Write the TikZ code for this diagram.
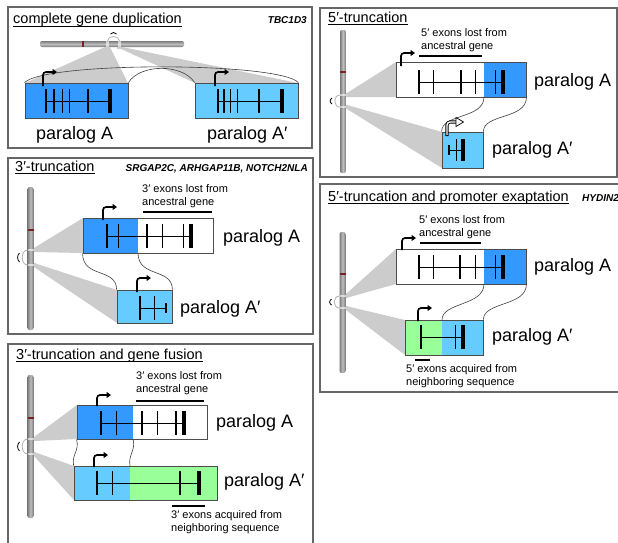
\documentclass[tikz,border=0pt]{standalone}
\usepackage{fontspec}
\setmainfont{Liberation Sans}
\usepackage{tikz}
\usetikzlibrary{arrows.meta, fit, calc}

\definecolor{parablue}{HTML}{3399FF}
\definecolor{paracyan}{HTML}{66CCFF}
\definecolor{paragreen}{HTML}{99FF99}
\definecolor{fangray}{HTML}{CCCCCC}
\definecolor{bandred}{HTML}{7A2222}
\definecolor{chromdark}{HTML}{7C7C7C}
\definecolor{chromlight}{HTML}{BDBDBD}
\definecolor{framegray}{HTML}{666666}

\tikzset{
    panel/.style={draw=framegray, line width=1.3pt},
    genebox/.style={draw=black!70, line width=0.8pt, inner sep=0pt},
    fan/.style={fill=fangray},
    link/.style={draw=black!75, line width=0.6pt},
    tss/.style={line width=1.7pt, rounded corners=3pt, -{Triangle[length=4.5pt,width=6pt]}},
    ptitle/.style={font=\fontsize{14.5}{16}\selectfont, inner sep=0pt, anchor=base west},
    gname/.style={font=\fontsize{10}{12}\selectfont\bfseries\itshape, inner sep=0pt},
    plabel/.style={font=\fontsize{18}{20}\selectfont, inner sep=0pt, anchor=west},
    note/.style={font=\fontsize{11}{13}\selectfont, inner sep=0pt, anchor=north west, align=left},
    bar/.style={line width=1.2pt},
}

% gene: y of the line, first and last x, exons as x/width/half height
\def\gene#1#2#3#4{%
    \draw[line width=0.9pt] (#2,#1) -- (#3,#1);
    \foreach \ex/\w/\h in {#4}
    {
        \draw[line width=\w pt] (\ex,#1-\h) -- (\ex,#1+\h);
    }
}

% upright chromosome: x, top, bottom, red band, the two duplicated spots
\def\vchrom#1#2#3#4#5#6{%
    \shade[left color=chromdark, right color=chromdark, middle color=chromlight, rounded corners=2pt]
        (#1-3,#2) rectangle (#1+3,#3);
    \fill[bandred] (#1-3,#4-1) rectangle (#1+3,#4+1);
    \foreach \n in {#5,#6}
    {
        \fill[white, opacity=0.6] (#1-3,\n-1.2) rectangle (#1+3,\n+1.2);
        \fill[fangray] (#1+3,\n-2) rectangle (#1+5,\n+2);
    }
    \draw[black!30, line width=0.8pt] (#1-3,#5) .. controls (#1-10,#5) and (#1-10,#6) .. (#1-3,#6);
    \draw[line width=0.8pt] (#1-11,#5+3) .. controls (#1-13.5,#5+5) and (#1-13.5,#6-5) .. (#1-11,#6-3);
}

\begin{document}
\begin{tikzpicture}[x=1pt, y=-1pt]
    \clip (0,0) rectangle (618,542);
    \fill[white] (0,0) rectangle (618,542);

    % ---------- complete gene duplication ----------
    \draw[panel] (8,7) rectangle (312,148);
    \node[ptitle] (t1) at (13,23.5) {complete gene duplication};
    \draw ([yshift=-2.5pt]t1.base west) -- ([yshift=-2.5pt]t1.base east);
    \node[gname, anchor=base east] (g1) at (307,23) {TBC1D3};

    % chromosome
    \shade[top color=chromdark, bottom color=chromdark, middle color=chromlight, rounded corners=2pt]
        (40,41) rectangle (184,47);
    \fill[bandred] (82,41) rectangle (84,47);
    \foreach \n in {107.5,119.5}
    {
        \fill[white, opacity=0.6] (\n-1.2,41) rectangle (\n+1.2,47);
        \fill[fangray] (\n-2.5,47) rectangle (\n+2.5,49);
    }
    \draw[black!30, line width=0.8pt] (107.5,41) .. controls (107.5,35) and (119.5,35) .. (119.5,41);
    \draw[line width=0.8pt] (110.5,34) .. controls (112,32) and (115,32) .. (116.5,34);

    \fill[fan] (105,47) -- (25,83) -- (128,83) -- (110,47) -- cycle;
    \fill[fan] (117,47) -- (195,83) -- (298,83) -- (122,47) -- cycle;

    \fill[parablue] (25,83) rectangle (128,118);
    \node[genebox, fit={(25,83) (128,118)}] (p1a) {};
    \fill[paracyan] (195,83) rectangle (298,118);
    \node[genebox, fit={(195,83) (298,118)}] (p1ap) {};

    \draw[link] (p1a.north west) .. controls +(20,-21) and +(-20,-21) .. (p1ap.north east);
    \draw[link] (p1a.north east) .. controls +(12,-19) and +(-12,-19) .. (p1ap.north west);

    \gene{101}{46}{110}{46/2/12, 54/1.5/12, 62/1/12, 69/1/12, 88/2/12, 110/3.5/12}
    \gene{101}{218}{282}{218/2/12, 224/1.5/12, 230/1/12, 237/1/12, 259/2/12, 282/3.5/12}
    \draw[tss] (43,86) |- (57,72);
    \draw[tss] (215,86) |- (229,72);

    \node[plabel] (l1a) at (36,134.5) {paralog A};
    \node[plabel] (l1b) at (207,134.5) {paralog A′};

    % ---------- 3'-truncation ----------
    \draw[panel] (8,158) rectangle (313,334);
    \node[ptitle] (t2) at (15,171) {3′-truncation};
    \draw ([yshift=-2.5pt]t2.base west) -- ([yshift=-2.5pt]t2.base east);
    \node[gname, anchor=base east] (g2) at (308,171) {SRGAP2C, ARHGAP11B, NOTCH2NLA};

    \vchrom{30.5}{187}{330}{230}{250}{265}
    \fill[fan] (34,248) -- (83,218) -- (83,253) -- (34,252) -- cycle;
    \fill[fan] (34,263) -- (117,290) -- (117,323) -- (34,267) -- cycle;

    \fill[parablue] (83,218) rectangle (138,253);
    \node[genebox, fit={(83,218) (213,253)}] (p2a) {};
    \coordinate (p2cut) at (138,253);
    \fill[paracyan] (117,290) rectangle (172,323);
    \node[genebox, fit={(117,290) (172,323)}] (p2ap) {};

    \draw[link] (p2a.south west) .. controls +(0,25) and +(0,-22) .. (p2ap.north west);
    \draw[link] (p2cut) .. controls +(0,25) and +(0,-22) .. (p2ap.north east);

    \gene{236}{107}{191}{107/2/12, 118/1/12, 147/2/12, 162/1/12, 183/1/12, 191/3.5/12}
    \gene{308}{140}{166}{140/2/12, 154/1/12, 166/1.5/5}
    \draw[tss] (103,220) |- (117,207);
    \draw[tss] (137,292) |- (151,278);

    \node[note] (n2) at (142,184) {3′ exons lost from\\ancestral gene};
    \draw[bar] (143,212) -- (212,212);
    \node[plabel] (l2a) at (223,238) {paralog A};
    \node[plabel] (l2b) at (180,309) {paralog A′};

    % ---------- 3'-truncation and gene fusion ----------
    \draw[panel] (8,344) rectangle (313,545);
    \node[ptitle] (t3) at (16,359) {3′-truncation and gene fusion};
    \draw ([yshift=-2.5pt]t3.base west) -- ([yshift=-2.5pt]t3.base east);

    \vchrom{30.5}{375}{518}{418}{439}{454}
    \fill[fan] (34,437) -- (77,405) -- (77,439) -- (34,441) -- cycle;
    \fill[fan] (34,452) -- (74,466) -- (74,500) -- (34,456) -- cycle;

    \fill[parablue] (77,405) rectangle (133,439);
    \node[genebox, fit={(77,405) (207,439)}] (p3a) {};
    \coordinate (p3cut) at (133,439);
    \fill[paracyan] (74,466) rectangle (130,500);
    \fill[paragreen] (130,466) rectangle (217,500);
    \node[genebox, fit={(74,466) (217,500)}] (p3ap) {};
    \coordinate (p3join) at (130,466);

    \draw[link] (p3a.south west) .. controls +(3,12) and +(-2,-12) .. (p3ap.north west);
    \draw[link] (p3cut) .. controls +(3,12) and +(-2,-12) .. (p3join);

    \gene{423}{101}{184}{101/2/12, 116/1/12, 142/2/12, 157/1/12, 176/1.5/12, 184/3.5/12}
    \gene{483}{97}{199}{97/2/12, 112/1/12, 180/2.5/12, 199/4/12}
    \draw[tss] (97,406) |- (111,395);
    \draw[tss] (94,467) |- (108,455);

    \node[note] (n3a) at (136,371) {3′ exons lost from\\ancestral gene};
    \draw[bar] (136,401) -- (204,401);
    \node[note] (n3b) at (171,510) {3′ exons acquired from\\neighboring sequence};
    \draw[bar] (172,506) -- (205,506);
    \node[plabel] (l3a) at (216,423) {paralog A};
    \node[plabel] (l3b) at (224,482) {paralog A′};

    % ---------- 5'-truncation ----------
    \draw[panel] (320,8) rectangle (617,177);
    \node[ptitle] (t4) at (328,22) {5′-truncation};
    \draw ([yshift=-2.5pt]t4.base west) -- ([yshift=-2.5pt]t4.base east);

    \vchrom{343}{30}{173}{72}{95}{107}
    \fill[fan] (347,93) -- (396,62) -- (396,97) -- (347,97) -- cycle;
    \fill[fan] (347,105) -- (442,132) -- (442,168) -- (347,109) -- cycle;

    \fill[parablue] (484,62) rectangle (526,97);
    \node[genebox, fit={(396,62) (526,97)}] (p4a) {};
    \coordinate (p4cut) at (484,97);
    \fill[paracyan] (442,132) rectangle (483,168);
    \node[genebox, fit={(442,132) (483,168)}] (p4ap) {};

    \draw[link] (p4cut) .. controls +(0,22) and +(0,-18) .. (p4ap.north west);
    \draw[link] (p4a.south east) .. controls +(0,22) and +(0,-18) .. (p4ap.north east);

    \gene{82}{419}{503}{419/2/12, 433/1/12, 461/2/12, 475/1/12, 495/1/12, 503/3.5/12}
    \gene{150}{449}{463}{449/1.5/5, 456/1/11, 463/3.5/11}
    \draw[tss] (401,66) |- (415,53);
    % hollow promoter arrow
    \draw[line width=3.2pt, rounded corners=3pt] (447,136) |- (457,122);
    \draw[white, line width=1.4pt, rounded corners=3pt] (447,135) |- (458,122);
    \filldraw[fill=white, line width=0.7pt] (456,117.5) -- (463.5,122) -- (456,126.5) -- cycle;

    \node[note] (n4) at (421,28) {5′ exons lost from\\ancestral gene};
    \draw[bar] (419,56) -- (482,56);
    \node[plabel] (l4a) at (534,82) {paralog A};
    \node[plabel] (l4b) at (492,150) {paralog A′};

    % ---------- 5'-truncation and promoter exaptation ----------
    \draw[panel] (320,184) rectangle (630,392);
    \node[ptitle] (t5) at (328,201) {5′-truncation and promoter exaptation};
    \draw ([yshift=-2.5pt]t5.base west) -- ([yshift=-2.5pt]t5.base east);
    \node[gname, anchor=base west] (g5) at (582,201) {HYDIN2};

    \vchrom{342.5}{232}{373}{274}{296}{308}
    \fill[fan] (346,294) -- (396,249) -- (396,284) -- (346,298) -- cycle;
    \fill[fan] (346,306) -- (405,320) -- (405,355) -- (346,310) -- cycle;

    \fill[parablue] (484,249) rectangle (526,284);
    \node[genebox, fit={(396,249) (526,284)}] (p5a) {};
    \coordinate (p5cut) at (484,284);
    \fill[paragreen] (405,320) rectangle (442,355);
    \fill[paracyan] (442,320) rectangle (483,355);
    \node[genebox, fit={(405,320) (483,355)}] (p5ap) {};
    \coordinate (p5join) at (442,320);

    \draw[link] (p5cut) .. controls +(0,22) and +(0,-18) .. (p5join);
    \draw[link] (p5a.south east) .. controls +(0,22) and +(0,-18) .. (p5ap.north east);

    \gene{267}{419}{503}{419/2/12, 433/1/12, 460/2/12, 475/1/12, 495/1/12, 503/3.5/12}
    \gene{337}{421}{463}{421/2/12, 455/1/12, 463/3.5/12}
    \draw[tss] (402,250) |- (416,238);
    \draw[tss] (418,321) |- (432,308);

    \node[note] (n5a) at (419,215) {5′ exons lost from\\ancestral gene};
    \draw[bar] (420,243) -- (481,243);
    \node[note] (n5b) at (406,364) {5′ exons acquired from\\neighboring sequence};
    \draw[bar] (415,360) -- (430,360);
    \node[plabel] (l5a) at (534,267) {paralog A};
    \node[plabel] (l5b) at (492,337) {paralog A′};
\end{tikzpicture}
\end{document}
